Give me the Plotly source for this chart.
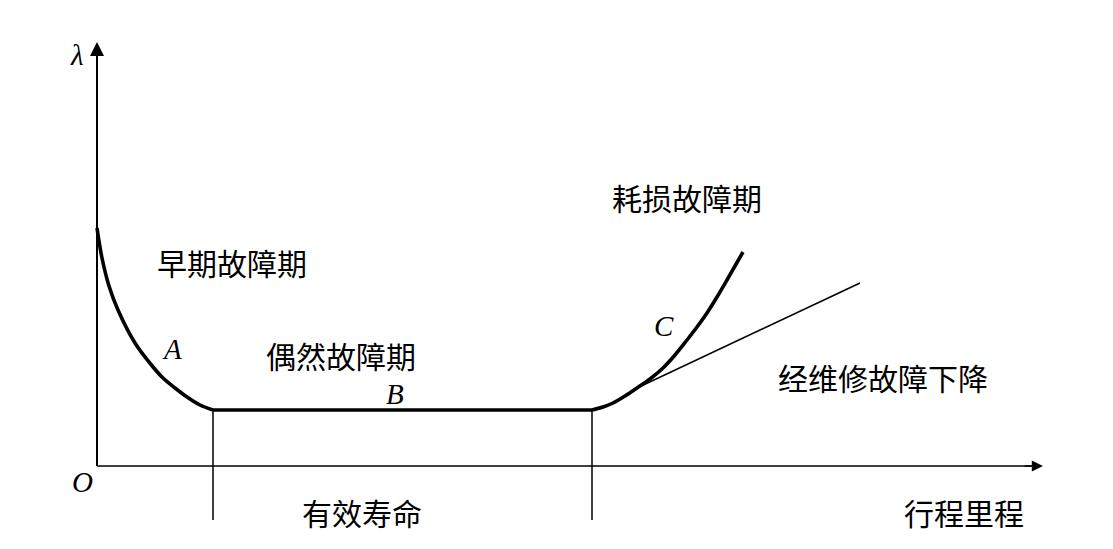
import plotly.graph_objects as go

# Data (units: picture pixels relative to origin O)
early_x = [0, 5, 12, 21, 38, 52, 65, 78, 90, 103, 116]
early_y = [238, 208, 180, 156, 123, 104, 89, 78, 69, 61, 56]

random_x = [116, 495]
random_y = [56, 56]

wear_x = [495, 506, 516, 528, 540, 553, 566, 578, 590, 600, 610, 620, 630, 638, 646]
wear_y = [56, 59, 63, 70, 78, 87, 98, 111, 126, 139, 153, 169, 186, 200, 214]

maint_x = [540, 763]
maint_y = [78, 183]

life_bounds = [116, 495]
axis_x_end = 946
axis_y_end = 424
bottom = -54

labels_cn = [
    ("早期故障期", 135, 204),
    ("偶然故障期", 244, 111),
    ("耗损故障期", 590, 269),
    ("经维修故障下降", 786, 89),
    ("有效寿命", 265, -46),
    ("行程里程", 867, -46),
]
labels_it = [
    ("λ", -20, 411),
    ("O", -15, -16),
    ("A", 75, 117),
    ("B", 298, 72),
    ("C", 567, 140),
]

fig = go.Figure()
black = "#000000"

# axes
fig.add_trace(go.Scatter(x=[0, 0], y=[0, axis_y_end - 10], mode="lines",
                         line=dict(color=black, width=2), hoverinfo="skip"))
fig.add_trace(go.Scatter(x=[0, axis_x_end - 10], y=[0, 0], mode="lines",
                         line=dict(color=black, width=1.6), hoverinfo="skip"))

# life boundaries
for bx in life_bounds:
    fig.add_trace(go.Scatter(x=[bx, bx], y=[random_y[0], bottom], mode="lines",
                             line=dict(color=black, width=1.5), hoverinfo="skip"))

# maintained line
fig.add_trace(go.Scatter(x=maint_x, y=maint_y, mode="lines",
                         line=dict(color=black, width=1.6), hoverinfo="skip"))

# bathtub curve
for xs, ys in [(early_x, early_y), (random_x, random_y), (wear_x, wear_y)]:
    fig.add_trace(go.Scatter(x=xs, y=ys, mode="lines",
                             line=dict(color=black, width=3.6, shape="spline"),
                             hoverinfo="skip"))

# arrowheads
fig.add_annotation(x=0, y=axis_y_end, ax=0, ay=axis_y_end - 20, xref="x", yref="y",
                   axref="x", ayref="y", text="", showarrow=True,
                   arrowhead=2, arrowsize=1.4, arrowwidth=2, arrowcolor=black)
fig.add_annotation(x=axis_x_end, y=0, ax=axis_x_end - 20, ay=0, xref="x", yref="y",
                   axref="x", ayref="y", text="", showarrow=True,
                   arrowhead=2, arrowsize=1.4, arrowwidth=1.6, arrowcolor=black)

for t, x, y in labels_cn:
    fig.add_annotation(x=x, y=y, text=t, showarrow=False, xanchor="center", yanchor="middle",
                       font=dict(family="Noto Sans CJK SC", size=30, color=black))
for t, x, y in labels_it:
    fig.add_annotation(x=x, y=y, text="<i>" + t + "</i>", showarrow=False,
                       xanchor="center", yanchor="middle",
                       font=dict(family="Liberation Serif", size=29, color=black))

# page body has an 8px margin: figure is 8px smaller and ranges shifted accordingly
fig.update_layout(
    width=1105, height=541,
    margin=dict(l=0, r=0, t=0, b=0),
    paper_bgcolor="white", plot_bgcolor="white",
    showlegend=False,
    xaxis=dict(range=[-89, 1016], visible=False, fixedrange=True),
    yaxis=dict(range=[-83, 458], visible=False, fixedrange=True),
)

fig.write_html("out.html")
